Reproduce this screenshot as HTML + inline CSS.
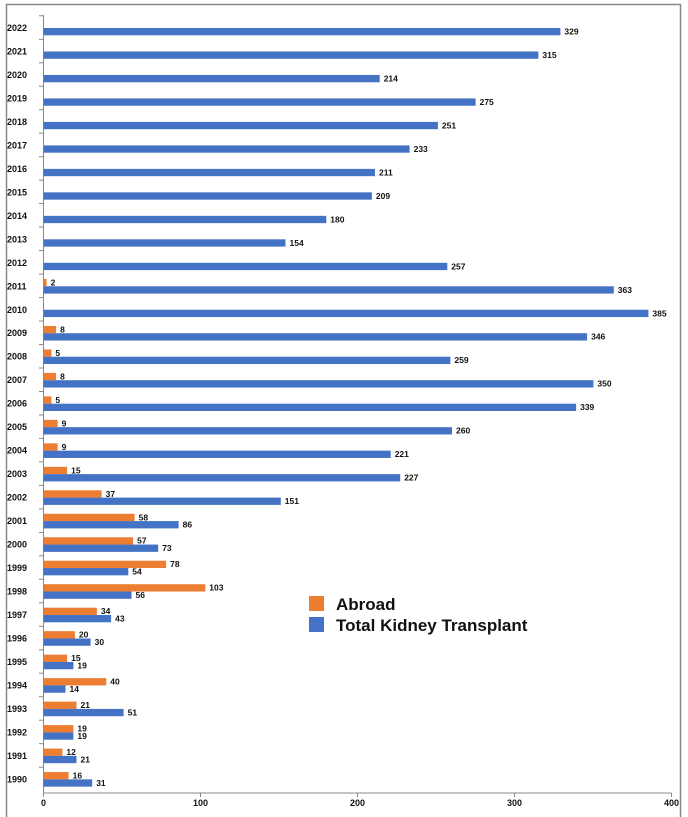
<!DOCTYPE html>
<html><head><meta charset="utf-8"><style>
html,body{margin:0;padding:0;background:#fff;}
svg{display:block;font-family:"Liberation Sans",sans-serif;}
.y{font-size:9px;font-weight:bold;fill:#111;}
.v{font-size:8.5px;font-weight:bold;fill:#111;}
.b{fill:#4472C4;} .o{fill:#ED7D31;}
</style></head><body>
<svg width="688" height="817" viewBox="0 0 688 817">
<rect x="0" y="0" width="688" height="817" fill="#fff"/>
<path d="M6.5 817V4.5H680.5V817" fill="none" stroke="#888" stroke-width="1.5"/>
<g stroke="#888" stroke-width="1">
<line x1="43.5" y1="15" x2="43.5" y2="793"/>
<line x1="43.5" y1="793" x2="671.5" y2="793"/>
<line x1="43.5" y1="793" x2="43.5" y2="797"/><line x1="200.5" y1="793" x2="200.5" y2="797"/><line x1="357.5" y1="793" x2="357.5" y2="797"/><line x1="514.5" y1="793" x2="514.5" y2="797"/><line x1="671.5" y1="793" x2="671.5" y2="797"/>
<line x1="39" y1="15.8" x2="43.5" y2="15.8"/><line x1="39" y1="39.3" x2="43.5" y2="39.3"/><line x1="39" y1="62.8" x2="43.5" y2="62.8"/><line x1="39" y1="86.2" x2="43.5" y2="86.2"/><line x1="39" y1="109.7" x2="43.5" y2="109.7"/><line x1="39" y1="133.2" x2="43.5" y2="133.2"/><line x1="39" y1="156.7" x2="43.5" y2="156.7"/><line x1="39" y1="180.2" x2="43.5" y2="180.2"/><line x1="39" y1="203.6" x2="43.5" y2="203.6"/><line x1="39" y1="227.1" x2="43.5" y2="227.1"/><line x1="39" y1="250.6" x2="43.5" y2="250.6"/><line x1="39" y1="274.1" x2="43.5" y2="274.1"/><line x1="39" y1="297.6" x2="43.5" y2="297.6"/><line x1="39" y1="321" x2="43.5" y2="321"/><line x1="39" y1="344.5" x2="43.5" y2="344.5"/><line x1="39" y1="368" x2="43.5" y2="368"/><line x1="39" y1="391.5" x2="43.5" y2="391.5"/><line x1="39" y1="415" x2="43.5" y2="415"/><line x1="39" y1="438.4" x2="43.5" y2="438.4"/><line x1="39" y1="461.9" x2="43.5" y2="461.9"/><line x1="39" y1="485.4" x2="43.5" y2="485.4"/><line x1="39" y1="508.9" x2="43.5" y2="508.9"/><line x1="39" y1="532.4" x2="43.5" y2="532.4"/><line x1="39" y1="555.8" x2="43.5" y2="555.8"/><line x1="39" y1="579.3" x2="43.5" y2="579.3"/><line x1="39" y1="602.8" x2="43.5" y2="602.8"/><line x1="39" y1="626.3" x2="43.5" y2="626.3"/><line x1="39" y1="649.8" x2="43.5" y2="649.8"/><line x1="39" y1="673.2" x2="43.5" y2="673.2"/><line x1="39" y1="696.7" x2="43.5" y2="696.7"/><line x1="39" y1="720.2" x2="43.5" y2="720.2"/><line x1="39" y1="743.7" x2="43.5" y2="743.7"/><line x1="39" y1="767.2" x2="43.5" y2="767.2"/>
</g>
<g class="y" text-anchor="middle">
<text x="43.5" y="806">0</text><text x="200.5" y="806">100</text><text x="357.5" y="806">200</text><text x="514.5" y="806">300</text><text x="671.5" y="806">400</text>
</g>

<g transform="translate(0,0)"><text class="y" x="7" y="31">2022</text><rect class="b" x="43.5" y="28" width="516.9" height="7.3"/><text class="v" x="564.4" y="34.5">329</text></g>
<g transform="translate(0,23.48)"><text class="y" x="7" y="31">2021</text><rect class="b" x="43.5" y="28" width="494.9" height="7.3"/><text class="v" x="542.4" y="34.5">315</text></g>
<g transform="translate(0,46.96)"><text class="y" x="7" y="31">2020</text><rect class="b" x="43.5" y="28" width="336.2" height="7.3"/><text class="v" x="383.7" y="34.5">214</text></g>
<g transform="translate(0,70.44)"><text class="y" x="7" y="31">2019</text><rect class="b" x="43.5" y="28" width="432.1" height="7.3"/><text class="v" x="479.6" y="34.5">275</text></g>
<g transform="translate(0,93.92)"><text class="y" x="7" y="31">2018</text><rect class="b" x="43.5" y="28" width="394.4" height="7.3"/><text class="v" x="441.9" y="34.5">251</text></g>
<g transform="translate(0,117.4)"><text class="y" x="7" y="31">2017</text><rect class="b" x="43.5" y="28" width="366.1" height="7.3"/><text class="v" x="413.6" y="34.5">233</text></g>
<g transform="translate(0,140.88)"><text class="y" x="7" y="31">2016</text><rect class="b" x="43.5" y="28" width="331.5" height="7.3"/><text class="v" x="379" y="34.5">211</text></g>
<g transform="translate(0,164.36)"><text class="y" x="7" y="31">2015</text><rect class="b" x="43.5" y="28" width="328.4" height="7.3"/><text class="v" x="375.9" y="34.5">209</text></g>
<g transform="translate(0,187.84)"><text class="y" x="7" y="31">2014</text><rect class="b" x="43.5" y="28" width="282.8" height="7.3"/><text class="v" x="330.3" y="34.5">180</text></g>
<g transform="translate(0,211.32)"><text class="y" x="7" y="31">2013</text><rect class="b" x="43.5" y="28" width="242" height="7.3"/><text class="v" x="289.5" y="34.5">154</text></g>
<g transform="translate(0,234.8)"><text class="y" x="7" y="31">2012</text><rect class="b" x="43.5" y="28" width="403.8" height="7.3"/><text class="v" x="451.3" y="34.5">257</text></g>
<g transform="translate(0,258.28)"><text class="y" x="7" y="31">2011</text><rect class="o" x="43.5" y="20.7" width="3.1" height="7.3"/><text class="v" x="50.6" y="27.2">2</text><rect class="b" x="43.5" y="28" width="570.3" height="7.3"/><text class="v" x="617.8" y="34.5">363</text></g>
<g transform="translate(0,281.76)"><text class="y" x="7" y="31">2010</text><rect class="b" x="43.5" y="28" width="604.9" height="7.3"/><text class="v" x="652.4" y="34.5">385</text></g>
<g transform="translate(0,305.24)"><text class="y" x="7" y="31">2009</text><rect class="o" x="43.5" y="20.7" width="12.6" height="7.3"/><text class="v" x="60.1" y="27.2">8</text><rect class="b" x="43.5" y="28" width="543.6" height="7.3"/><text class="v" x="591.1" y="34.5">346</text></g>
<g transform="translate(0,328.72)"><text class="y" x="7" y="31">2008</text><rect class="o" x="43.5" y="20.7" width="7.9" height="7.3"/><text class="v" x="55.4" y="27.2">5</text><rect class="b" x="43.5" y="28" width="406.9" height="7.3"/><text class="v" x="454.4" y="34.5">259</text></g>
<g transform="translate(0,352.2)"><text class="y" x="7" y="31">2007</text><rect class="o" x="43.5" y="20.7" width="12.6" height="7.3"/><text class="v" x="60.1" y="27.2">8</text><rect class="b" x="43.5" y="28" width="549.9" height="7.3"/><text class="v" x="597.4" y="34.5">350</text></g>
<g transform="translate(0,375.68)"><text class="y" x="7" y="31">2006</text><rect class="o" x="43.5" y="20.7" width="7.9" height="7.3"/><text class="v" x="55.4" y="27.2">5</text><rect class="b" x="43.5" y="28" width="532.6" height="7.3"/><text class="v" x="580.1" y="34.5">339</text></g>
<g transform="translate(0,399.16)"><text class="y" x="7" y="31">2005</text><rect class="o" x="43.5" y="20.7" width="14.1" height="7.3"/><text class="v" x="61.6" y="27.2">9</text><rect class="b" x="43.5" y="28" width="408.5" height="7.3"/><text class="v" x="456" y="34.5">260</text></g>
<g transform="translate(0,422.64)"><text class="y" x="7" y="31">2004</text><rect class="o" x="43.5" y="20.7" width="14.1" height="7.3"/><text class="v" x="61.6" y="27.2">9</text><rect class="b" x="43.5" y="28" width="347.2" height="7.3"/><text class="v" x="394.7" y="34.5">221</text></g>
<g transform="translate(0,446.12)"><text class="y" x="7" y="31">2003</text><rect class="o" x="43.5" y="20.7" width="23.6" height="7.3"/><text class="v" x="71.1" y="27.2">15</text><rect class="b" x="43.5" y="28" width="356.7" height="7.3"/><text class="v" x="404.2" y="34.5">227</text></g>
<g transform="translate(0,469.6)"><text class="y" x="7" y="31">2002</text><rect class="o" x="43.5" y="20.7" width="58.1" height="7.3"/><text class="v" x="105.6" y="27.2">37</text><rect class="b" x="43.5" y="28" width="237.3" height="7.3"/><text class="v" x="284.8" y="34.5">151</text></g>
<g transform="translate(0,493.08)"><text class="y" x="7" y="31">2001</text><rect class="o" x="43.5" y="20.7" width="91.1" height="7.3"/><text class="v" x="138.6" y="27.2">58</text><rect class="b" x="43.5" y="28" width="135.1" height="7.3"/><text class="v" x="182.6" y="34.5">86</text></g>
<g transform="translate(0,516.56)"><text class="y" x="7" y="31">2000</text><rect class="o" x="43.5" y="20.7" width="89.6" height="7.3"/><text class="v" x="137.1" y="27.2">57</text><rect class="b" x="43.5" y="28" width="114.7" height="7.3"/><text class="v" x="162.2" y="34.5">73</text></g>
<g transform="translate(0,540.04)"><text class="y" x="7" y="31">1999</text><rect class="o" x="43.5" y="20.7" width="122.6" height="7.3"/><text class="v" x="170.1" y="27.2">78</text><rect class="b" x="43.5" y="28" width="84.8" height="7.3"/><text class="v" x="132.3" y="34.5">54</text></g>
<g transform="translate(0,563.52)"><text class="y" x="7" y="31">1998</text><rect class="o" x="43.5" y="20.7" width="161.8" height="7.3"/><text class="v" x="209.3" y="27.2">103</text><rect class="b" x="43.5" y="28" width="88" height="7.3"/><text class="v" x="135.5" y="34.5">56</text></g>
<g transform="translate(0,587)"><text class="y" x="7" y="31">1997</text><rect class="o" x="43.5" y="20.7" width="53.4" height="7.3"/><text class="v" x="100.9" y="27.2">34</text><rect class="b" x="43.5" y="28" width="67.6" height="7.3"/><text class="v" x="115.1" y="34.5">43</text></g>
<g transform="translate(0,610.48)"><text class="y" x="7" y="31">1996</text><rect class="o" x="43.5" y="20.7" width="31.4" height="7.3"/><text class="v" x="78.9" y="27.2">20</text><rect class="b" x="43.5" y="28" width="47.1" height="7.3"/><text class="v" x="94.6" y="34.5">30</text></g>
<g transform="translate(0,633.96)"><text class="y" x="7" y="31">1995</text><rect class="o" x="43.5" y="20.7" width="23.6" height="7.3"/><text class="v" x="71.1" y="27.2">15</text><rect class="b" x="43.5" y="28" width="29.9" height="7.3"/><text class="v" x="77.4" y="34.5">19</text></g>
<g transform="translate(0,657.44)"><text class="y" x="7" y="31">1994</text><rect class="o" x="43.5" y="20.7" width="62.8" height="7.3"/><text class="v" x="110.3" y="27.2">40</text><rect class="b" x="43.5" y="28" width="22" height="7.3"/><text class="v" x="69.5" y="34.5">14</text></g>
<g transform="translate(0,680.92)"><text class="y" x="7" y="31">1993</text><rect class="o" x="43.5" y="20.7" width="33" height="7.3"/><text class="v" x="80.5" y="27.2">21</text><rect class="b" x="43.5" y="28" width="80.1" height="7.3"/><text class="v" x="127.6" y="34.5">51</text></g>
<g transform="translate(0,704.4)"><text class="y" x="7" y="31">1992</text><rect class="o" x="43.5" y="20.7" width="29.9" height="7.3"/><text class="v" x="77.4" y="27.2">19</text><rect class="b" x="43.5" y="28" width="29.9" height="7.3"/><text class="v" x="77.4" y="34.5">19</text></g>
<g transform="translate(0,727.88)"><text class="y" x="7" y="31">1991</text><rect class="o" x="43.5" y="20.7" width="18.9" height="7.3"/><text class="v" x="66.4" y="27.2">12</text><rect class="b" x="43.5" y="28" width="33" height="7.3"/><text class="v" x="80.5" y="34.5">21</text></g>
<g transform="translate(0,751.36)"><text class="y" x="7" y="31">1990</text><rect class="o" x="43.5" y="20.7" width="25.1" height="7.3"/><text class="v" x="72.6" y="27.2">16</text><rect class="b" x="43.5" y="28" width="48.7" height="7.3"/><text class="v" x="96.2" y="34.5">31</text></g>

<rect class="o" x="309" y="596" width="15" height="15"/>
<text x="336" y="610" font-size="17" font-weight="bold" fill="#111">Abroad</text>
<rect class="b" x="309" y="617" width="15" height="15"/>
<text x="336" y="631" font-size="17" font-weight="bold" fill="#111">Total Kidney Transplant</text>
</svg>
</body></html>
